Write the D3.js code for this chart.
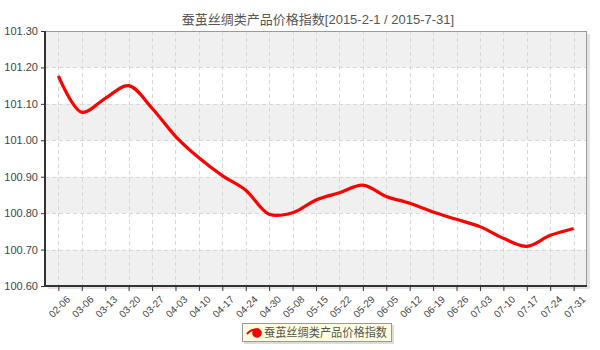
<!DOCTYPE html>
<html>
<head>
<meta charset="utf-8">
<script src="https://cdn.jsdelivr.net/npm/d3@7"></script>
<style>
  body { margin: 0; background: #fff; }
  svg { display: block; }
</style>
</head>
<body>
<div id="chart"></div>
<script>
// data
const dates = ['02-06','03-06','03-13','03-20','03-27','04-03','04-10','04-17','04-24','04-30',
  '05-08','05-15','05-22','05-29','06-05','06-12','06-19','06-26','07-03','07-10','07-17','07-24','07-31'];
const values = [101.177, 101.077, 101.115, 101.150, 101.088, 101.011, 100.952, 100.903, 100.863, 100.797,
  100.801, 100.836, 100.856, 100.877, 100.846, 100.827, 100.803, 100.783, 100.763, 100.731, 100.709, 100.739, 100.758];
const yTicks = [100.6, 100.7, 100.8, 100.9, 101.0, 101.1, 101.2, 101.3];
const seriesName = '蚕茧丝绸类产品价格指数';
const title = '蚕茧丝绸类产品价格指数[2015-2-1 / 2015-7-31]';

let width = 600, height = 350;
let margin = {top: 31, left: 45, right: 13, bottom: 64};
let innerW = width - margin.left - margin.right;
let innerH = height - margin.top - margin.bottom;

let svg = d3.select('#chart').append('svg')
  .attr('width', width).attr('height', height)
  .style('font-family', 'Arial, "Liberation Sans", "Noto Sans CJK SC", sans-serif');

let x = d3.scalePoint().domain(dates).range([0, innerW]).padding(0.57);
let y = d3.scaleLinear().domain([100.6, 101.3]).range([innerH, 0]);

// title
svg.append('text')
  .attr('x', 318).attr('y', 24)
  .attr('text-anchor', 'middle')
  .style('font-size', '13px').style('fill', '#555')
  .text(title);

let g = svg.append('g').attr('transform', 'translate(' + margin.left + ',' + margin.top + ')');

// shadow
g.append('rect')
  .attr('x', 3).attr('y', 3).attr('width', innerW).attr('height', innerH)
  .style('fill', '#e4e4e4');

g.append('rect')
  .attr('width', innerW).attr('height', innerH)
  .style('fill', '#fff');

// alternating bands
g.selectAll('.band')
  .data(yTicks.slice(0, -1).filter((d, i) => i % 2 === 0))
  .enter().append('rect')
  .attr('class', 'band')
  .attr('x', 0).attr('width', innerW)
  .attr('y', d => y(d + 0.1)).attr('height', d => y(d) - y(d + 0.1))
  .style('fill', '#f0f0f0');

// grid lines
g.selectAll('.hgrid')
  .data(yTicks.slice(1, -1))
  .enter().append('line')
  .attr('x1', 0).attr('x2', innerW)
  .attr('y1', d => Math.round(y(d)) + 0.5).attr('y2', d => Math.round(y(d)) + 0.5)
  .style('stroke', '#d8d8d8').style('stroke-dasharray', '4,3');

g.selectAll('.vgrid')
  .data(dates)
  .enter().append('line')
  .attr('y1', 0).attr('y2', innerH)
  .attr('x1', d => Math.round(x(d)) + 0.5).attr('x2', d => Math.round(x(d)) + 0.5)
  .style('stroke', '#d8d8d8').style('stroke-dasharray', '4,3');

// frame
g.append('rect')
  .attr('x', 0.5).attr('y', 0.5).attr('width', innerW - 1).attr('height', innerH - 1)
  .style('fill', 'none').style('stroke', '#999');

// axes
let yAxis = d3.axisLeft(y).tickValues(yTicks).tickFormat(d3.format('.2f')).tickSize(4).tickPadding(3);
let xAxis = d3.axisBottom(x).tickSize(5).tickPadding(3);

let ya = g.append('g').call(yAxis);
ya.select('.domain').style('stroke', '#333').style('stroke-width', 2).attr('d', 'M0,0V' + innerH);
ya.selectAll('.tick line').style('stroke', '#333');
ya.selectAll('.tick text').style('font-size', '11px').style('fill', '#444').style('font-family', 'Arial, "Liberation Sans", sans-serif');

let xa = g.append('g').attr('transform', 'translate(0,' + innerH + ')').call(xAxis);
xa.select('.domain').style('stroke', '#333').style('stroke-width', 2).attr('d', 'M0,0H' + innerW);
xa.selectAll('.tick line').style('stroke', '#333');
xa.selectAll('.tick text')
  .style('font-size', '10px').style('fill', '#444')
  .style('font-family', 'Arial, "Liberation Sans", sans-serif')
  .attr('text-anchor', 'end')
  .attr('dy', '0.35em')
  .attr('transform', 'translate(4,6) rotate(-45)');

// line
let line = d3.line()
  .curve(d3.curveCatmullRom.alpha(0.5))
  .x((d, i) => x(dates[i]))
  .y(d => y(d));

g.append('path')
  .datum(values)
  .attr('d', line)
  .style('fill', 'none')
  .style('stroke', '#ff0000')
  .style('stroke-width', 3.2)
  .style('stroke-linejoin', 'round');

// legend
let lg = svg.append('g').attr('transform', 'translate(242,323)');
lg.append('rect')
  .attr('x', 2).attr('y', 2).attr('width', 150).attr('height', 19)
  .style('fill', '#ddd');
lg.append('rect')
  .attr('x', 0.5).attr('y', 0.5).attr('width', 149).attr('height', 18)
  .style('fill', '#ffffe0').style('stroke', '#999');
lg.append('path')
  .attr('d', 'M5,11 Q10,5 17,7')
  .style('fill', 'none').style('stroke', '#e00').style('stroke-width', 2);
lg.append('circle')
  .attr('cx', 15).attr('cy', 10).attr('r', 4.5)
  .style('fill', '#ff0000').style('stroke', '#b00').style('stroke-width', 0.5);
lg.append('text')
  .attr('x', 22).attr('y', 14)
  .attr('textLength', 123).attr('lengthAdjust', 'spacingAndGlyphs')
  .style('font-size', '12px').style('fill', '#555')
  .style('font-family', '"Noto Sans CJK SC", sans-serif')
  .text(seriesName);
</script>
</body>
</html>
